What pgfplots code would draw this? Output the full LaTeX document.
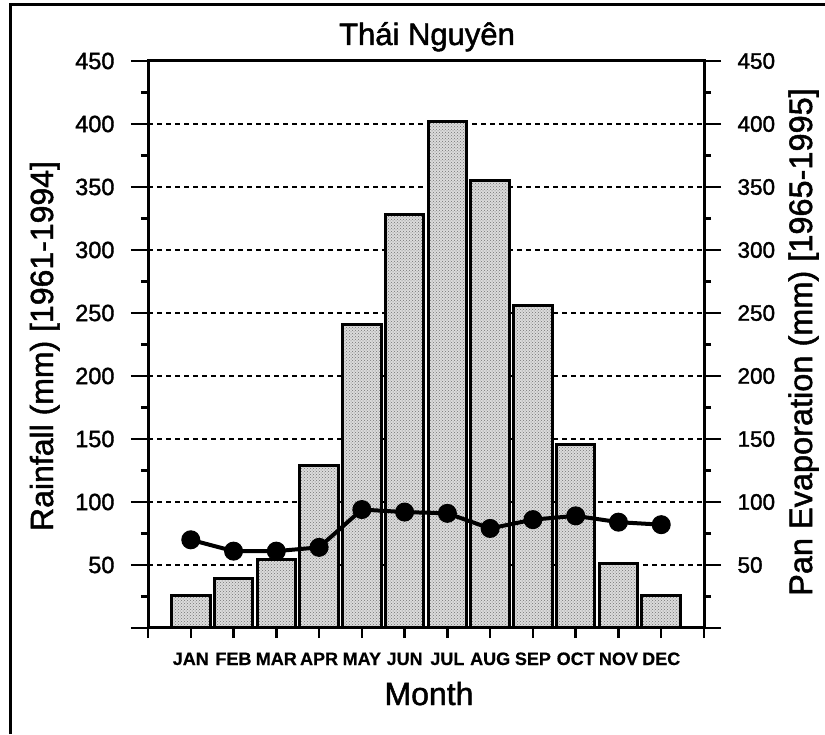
\documentclass[border=0pt]{standalone}
\usepackage{fontspec}
\setmainfont{Liberation Sans}
\newfontfamily\scanfont{Liberation Sans}[FakeBold=1.5]
\newfontfamily\scanbold{Liberation Sans Bold}[FakeBold=0.5]
\usepackage{pgfplots}
\pgfplotsset{compat=1.18}
\usetikzlibrary{patterns}

\pgfplotstableread{
x rain evap
1 26 70
2 39 61
3 54 61
4 129 64
5 241 94
6 328 92
7 402 91
8 355 79
9 256 86
10 146 89
11 51 84
12 26 82
}\climdata

\begin{document}
\begin{tikzpicture}
\useasboundingbox (0,0) rectangle (825pt,734pt);
\draw[line width=3pt] (10pt,0) -- (10pt,729pt) -- (826pt,729pt);
\pgfplotsset{
  common/.style={
    at={(148pt,106pt)}, anchor=south west,
    scale only axis, width=556pt, height=567pt,
    xmin=0, xmax=13, ymin=0, ymax=450,
    axis line style={line width=3pt},
    tick style={line width=2.5pt, black},
    tick align=outside,
  }
}
% Axis B: grid and left ticks
\begin{axis}[common,
  ytick={0,50,...,450},
  yticklabels={,50,100,150,200,250,300,350,400,450},
  ytick pos=left,
  minor y tick num=1,
  major tick length=17pt, minor tick length=7pt,
  xtick=\empty,
  ymajorgrids,
  major grid style={black, line width=1.3pt, dash pattern=on 5pt off 4pt},
  yticklabel style={font=\scanfont\fontsize{23.5}{28}\selectfont, xshift=-13pt},
]
\end{axis}
% Axis A: bars and months
\begin{axis}[common,
  ytick=\empty,
  xtick={0,...,13},
  xticklabels={,JAN,FEB,MAR,APR,MAY,JUN,JUL,AUG,SEP,OCT,NOV,DEC,},
  xtick pos=bottom,
  major tick length=10pt,
  xticklabel style={font=\scanbold\fontsize{18}{20}\selectfont, anchor=base, yshift=-27pt},
]
\addplot[ybar, bar width=0.9, draw=black, line width=3pt, fill=black!14,
  postaction={pattern=crosshatch dots, pattern color=black!55}]
  table[x=x, y=rain] {\climdata};
\end{axis}
% Axis C: right axis and evaporation
\begin{axis}[common,
  ytick={0,50,...,450},
  yticklabels={,50,100,150,200,250,300,350,400,450},
  ytick pos=right,
  minor y tick num=1,
  major tick length=17pt, minor tick length=7pt,
  xtick=\empty,
  yticklabel style={font=\scanfont\fontsize{22.5}{28}\selectfont, xshift=13pt},
]
\addplot[black, line width=4pt, mark=*, mark size=9pt, mark options={fill=black, line width=1pt}]
  table[x=x, y=evap] {\climdata};
\end{axis}
\node[anchor=base, font=\scanfont\fontsize{31}{36}\selectfont] at (427pt,689pt) {Thái Nguyên};
\node[anchor=base, rotate=90, font=\scanfont\fontsize{32}{38}\selectfont] at (53pt,388pt) {Rainfall (mm) [1961-1994]};
\node[anchor=base, rotate=90, font=\scanfont\fontsize{32.5}{38}\selectfont] at (812pt,392pt) {Pan Evaporation (mm) [1965-1995]};
\node[anchor=base, font=\scanfont\fontsize{32}{38}\selectfont] at (429pt,29pt) {Month};
\end{tikzpicture}
\end{document}
